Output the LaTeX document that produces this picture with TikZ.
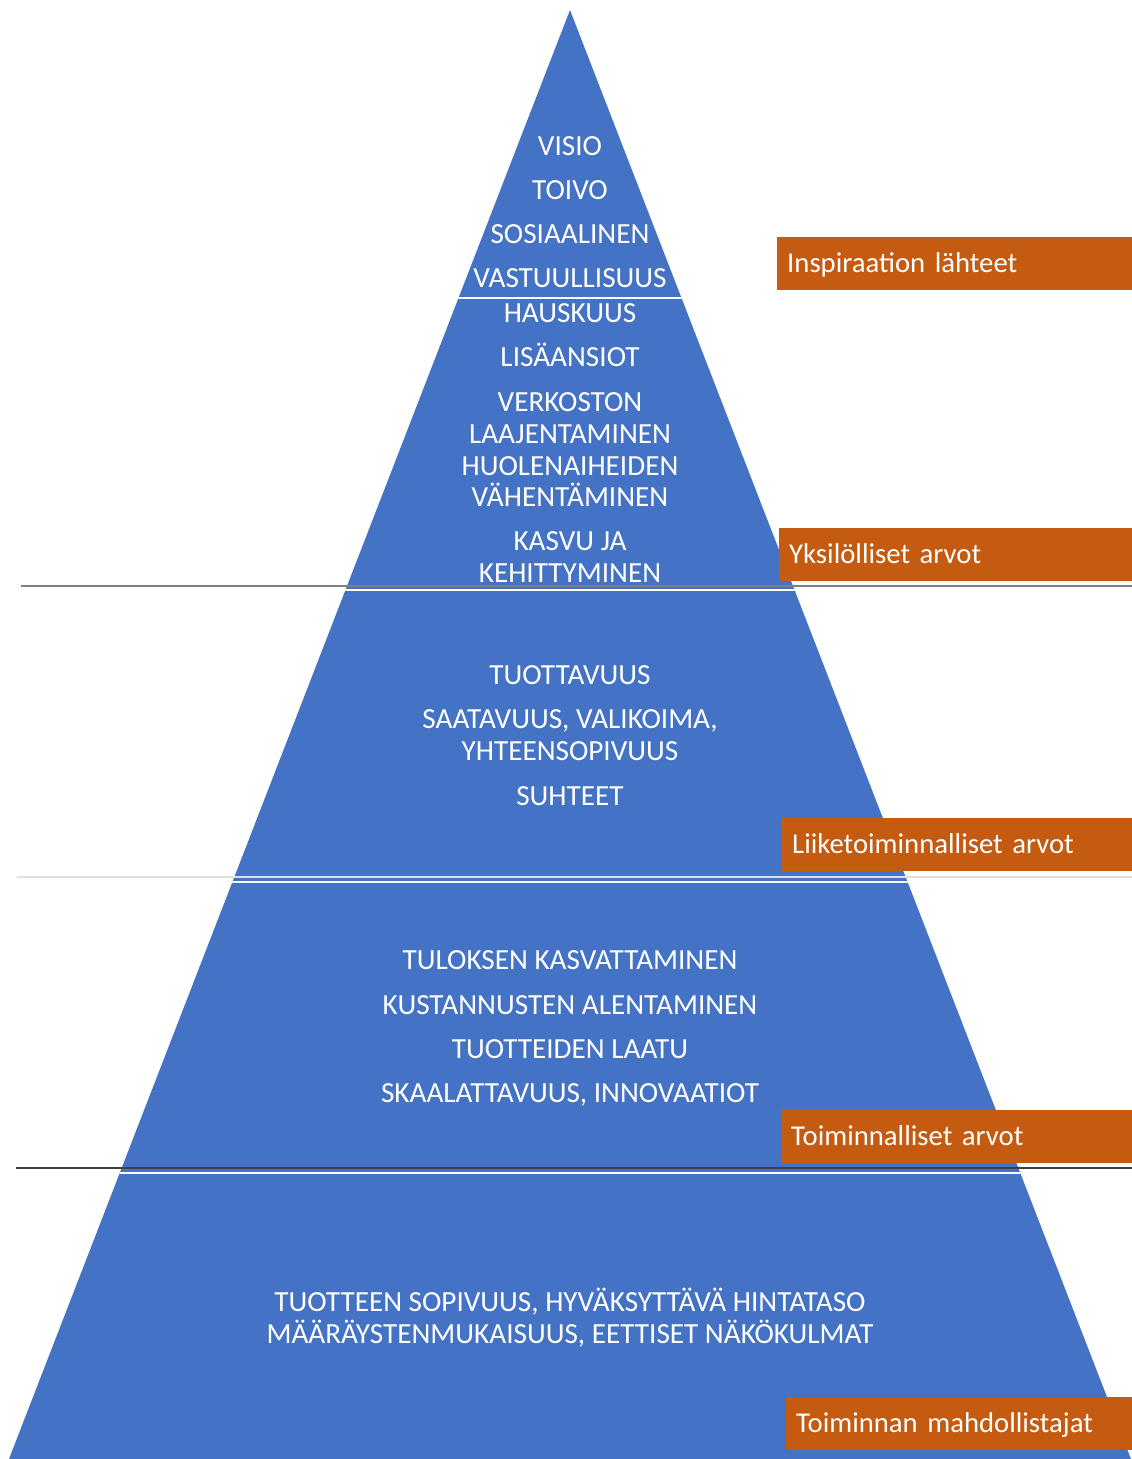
\documentclass[tikz,border=0pt]{standalone}
\usepackage{fontspec}
\setmainfont{Carlito}
\definecolor{pyrblue}{HTML}{4472C4}
\definecolor{tagorange}{HTML}{C55A11}
\begin{document}
\begin{tikzpicture}[x=1pt,y=-1pt,
  lvl/.style={anchor=base,text=white,inner sep=0pt,font=\fontsize{29.2}{32}\selectfont},
  tag/.style={anchor=north west,fill=tagorange,text=white,inner xsep=10pt,inner ysep=0pt,
    minimum height=53pt,text height=18.5pt,text depth=0pt,align=left,
    font=\fontsize{28.7}{32}\selectfont},
  gap/.style={white,line width=2pt},
  rule/.style={line width=1.3pt}]
\useasboundingbox (0,0) rectangle (1132,1459);
% pyramid body
\fill[pyrblue] (570,10) -- (9,1459) -- (1131,1459) -- cycle;
% white gaps between the tiers
\begin{scope}
  \clip (570,10) -- (9,1459) -- (1131,1459) -- cycle;
  \draw[gap,line width=1.5pt] (0,298) -- (1132,298);
  \draw[gap] (0,590) -- (1132,590);
  \draw[gap] (0,882) -- (1132,882);
  \draw[gap] (0,1173) -- (1132,1173);
\end{scope}
% horizontal rules
\coordinate (r1a) at (21,586);   \coordinate (r1b) at (1132,586);
\coordinate (r2a) at (17,877);   \coordinate (r2b) at (1132,877);
\coordinate (r3a) at (16,1168);  \coordinate (r3b) at (1132,1168);
\draw[rule,color=black!50] (r1a) -- (r1b);
\draw[rule,color=black!12] (r2a) -- (r2b);
\draw[rule,color=black!75] (r3a) -- (r3b);
% tier texts
\node[lvl] (t1) at (570,155) {VISIO};
\node[lvl] (t2) at (570,199) {TOIVO};
\node[lvl] (t3) at (570,243) {SOSIAALINEN};
\node[lvl] (t4) at (570,287) {VASTUULLISUUS};
\node[lvl] (t5) at (570,322) {HAUSKUUS};
\node[lvl] (t6) at (570,366) {LISÄANSIOT};
\node[lvl] (t7) at (570,411) {VERKOSTON};
\node[lvl] (t8) at (570,443) {LAAJENTAMINEN};
\node[lvl] (t9) at (570,475) {HUOLENAIHEIDEN};
\node[lvl] (t10) at (570,506) {VÄHENTÄMINEN};
\node[lvl] (t11) at (570,550) {KASVU JA};
\node[lvl] (t12) at (570,582) {KEHITTYMINEN};
\node[lvl] (b1) at (570,684) {TUOTTAVUUS};
\node[lvl] (b2) at (570,728) {SAATAVUUS, VALIKOIMA,};
\node[lvl] (b3) at (570,760) {YHTEENSOPIVUUS};
\node[lvl] (b4) at (570,805) {SUHTEET};
\node[lvl] (o1) at (570,969) {TULOKSEN KASVATTAMINEN};
\node[lvl] (o2) at (570,1014) {KUSTANNUSTEN ALENTAMINEN};
\node[lvl] (o3) at (570,1058) {TUOTTEIDEN LAATU};
\node[lvl] (o4) at (570,1102) {SKAALATTAVUUS, INNOVAATIOT};
\node[lvl] (e1) at (570,1311) {TUOTTEEN SOPIVUUS, HYVÄKSYTTÄVÄ HINTATASO};
\node[lvl] (e2) at (570,1343) {MÄÄRÄYSTENMUKAISUUS, EETTISET NÄKÖKULMAT};
% side labels
\node[tag,text width=335pt] (L1) at (777,237) {Inspiraation lähteet};
\node[tag,text width=333pt] (L2) at (779,528) {Yksilölliset arvot};
\node[tag,text width=330pt] (L3) at (782,818) {Liiketoiminnalliset arvot};
\node[tag,text width=331pt] (L4) at (781,1110) {Toiminnalliset arvot};
\node[tag,text width=326pt] (L5) at (786,1397) {Toiminnan mahdollistajat};
\end{tikzpicture}
\end{document}
